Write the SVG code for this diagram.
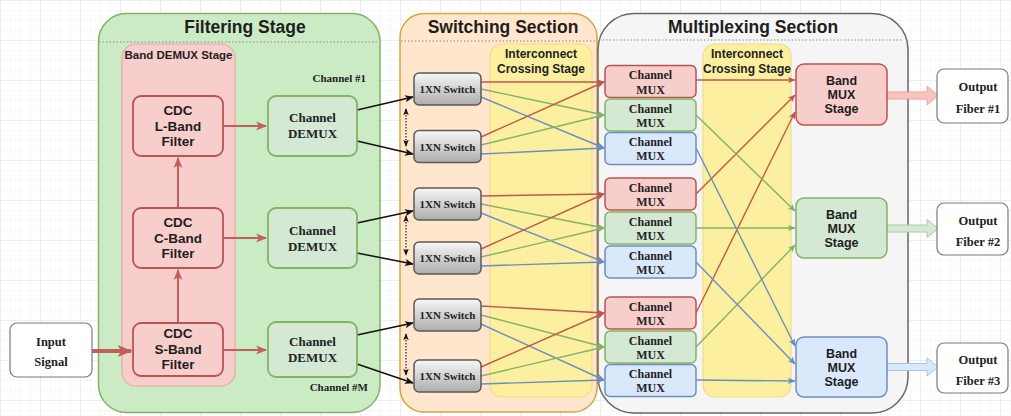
<svg xmlns="http://www.w3.org/2000/svg" width="1011" height="416" viewBox="0 0 1011 416">
  <defs>
    <pattern id="gridMinor" width="10" height="10" patternUnits="userSpaceOnUse">
      <path d="M10 0H0V10" fill="none" stroke="#f0f0f0" stroke-width="1"/>
    </pattern>
    <pattern id="gridMajor" width="40" height="40" patternUnits="userSpaceOnUse">
      <rect width="40" height="40" fill="url(#gridMinor)"/>
      <path d="M40 0H0V40" fill="none" stroke="#e3e3e3" stroke-width="1"/>
    </pattern>
    <linearGradient id="switchFill" x1="0" y1="0" x2="0" y2="1">
      <stop offset="0" stop-color="#f7f7f7"/>
      <stop offset="1" stop-color="#adadad"/>
    </linearGradient>
    <marker id="arrR" viewBox="0 0 10 10" refX="9" refY="5" markerWidth="8" markerHeight="8" markerUnits="userSpaceOnUse" orient="auto">
      <path d="M0,1 L10,5 L0,9 L2.5,5 Z" fill="#bf5a4a"/>
    </marker>
    <marker id="arrG" viewBox="0 0 10 10" refX="9" refY="5" markerWidth="8" markerHeight="8" markerUnits="userSpaceOnUse" orient="auto">
      <path d="M0,1 L10,5 L0,9 L2.5,5 Z" fill="#82b366"/>
    </marker>
    <marker id="arrB" viewBox="0 0 10 10" refX="9" refY="5" markerWidth="8" markerHeight="8" markerUnits="userSpaceOnUse" orient="auto">
      <path d="M0,1 L10,5 L0,9 L2.5,5 Z" fill="#6c8ebf"/>
    </marker>
    <marker id="arrK" viewBox="0 0 10 10" refX="9" refY="5" markerWidth="9" markerHeight="9" markerUnits="userSpaceOnUse" orient="auto">
      <path d="M0,1 L10,5 L0,9 L2.5,5 Z" fill="#111"/>
    </marker>
    <marker id="arrKs" viewBox="0 0 10 10" refX="9" refY="5" markerWidth="7" markerHeight="7" markerUnits="userSpaceOnUse" orient="auto-start-reverse">
      <path d="M0,1 L10,5 L0,9 L2.5,5 Z" fill="#111"/>
    </marker>
    <marker id="arrRm" viewBox="0 0 10 10" refX="9" refY="5" markerWidth="11" markerHeight="11" markerUnits="userSpaceOnUse" orient="auto">
      <path d="M0,1 L10,5 L0,9 L2.5,5 Z" fill="#c0605b"/>
    </marker>
    <marker id="arrRl" viewBox="0 0 10 10" refX="9" refY="5" markerWidth="15" markerHeight="15" markerUnits="userSpaceOnUse" orient="auto">
      <path d="M0,1 L10,5 L0,9 L2.5,5 Z" fill="#c0605b"/>
    </marker>
    <style>
      .sans { font-family: "Liberation Sans", Arial, sans-serif; font-weight: bold; fill: #1e1e1e; text-anchor: middle; }
      .serif { font-family: "Liberation Serif", "Times New Roman", serif; font-weight: bold; fill: #222; text-anchor: middle; }
      .title { font-size: 17.5px; }
      .lbl12 { font-size: 12px; }
      .cdc { font-size: 13.5px; }
      .bmux { font-size: 12.5px; }
      .sep { stroke: #8a8a8a; stroke-width: 1; stroke-dasharray: 1.5 2; fill: none; }
      .cdcBox { fill: #f8cecc; stroke: #b85450; stroke-width: 1.8; }
      .demuxBox { fill: #d5e8d4; stroke: #82b366; stroke-width: 1.8; }
      .sw { fill: url(#switchFill); stroke: #5a5a5a; stroke-width: 1.5; }
      .muxR { fill: #f8cecc; stroke: #b85450; stroke-width: 1.5; }
      .muxG { fill: #d5e8d4; stroke: #82b366; stroke-width: 1.5; }
      .muxB { fill: #dae8fc; stroke: #6c8ebf; stroke-width: 1.5; }
      .plain { fill: #ffffff; stroke: #7a7a7a; stroke-width: 1.2; }
      .yel { fill: #fcef9f; stroke: #f0dd8a; stroke-width: 1.2; }
      .cR { stroke: #bf5a4a; stroke-width: 1.4; fill: none; marker-end: url(#arrR); }
      .cG { stroke: #82b366; stroke-width: 1.4; fill: none; marker-end: url(#arrG); }
      .cB { stroke: #6c8ebf; stroke-width: 1.4; fill: none; marker-end: url(#arrB); }
      .cK { stroke: #111; stroke-width: 1.5; fill: none; marker-end: url(#arrK); }
      .cKd { stroke: #111; stroke-width: 1.1; fill: none; stroke-dasharray: 1.5 1.5; marker-start: url(#arrKs); marker-end: url(#arrKs); }
      .cRm { stroke: #c0605b; stroke-width: 2; fill: none; marker-end: url(#arrRm); }
    </style>
  </defs>

  <!-- canvas -->
  <rect width="1011" height="416" fill="#ffffff"/>
  <rect width="1011" height="416" fill="url(#gridMajor)"/>

  <!-- containers -->
  <g id="filtering-stage">
    <rect x="98.5" y="13.5" width="281.5" height="399" rx="28" fill="#cbebc5" stroke="#82b366" stroke-width="1.5"/>
    <line class="sep" x1="99" y1="42" x2="379" y2="42"/>
    <text class="sans title" x="245" y="33">Filtering Stage</text>
  </g>
  <g id="band-demux-stage">
    <rect x="122" y="44" width="113" height="342" rx="14" fill="#f8cecc" stroke="#eaa8a6" stroke-width="1.2"/>
    <text class="sans" x="178.5" y="59" font-size="11.5">Band DEMUX Stage</text>
  </g>
  <g id="switching-section">
    <rect x="400" y="13.5" width="197" height="398.5" rx="24" fill="#ffe6cc" stroke="#d6a640" stroke-width="1.5"/>
    <line class="sep" x1="401" y1="41" x2="596" y2="41"/>
    <text class="sans title" x="503" y="33">Switching Section</text>
  </g>
  <g id="interconnect-crossing-1">
    <rect class="yel" x="490" y="44" width="102" height="353" rx="12"/>
    <text class="sans lbl12" x="541" y="58">Interconnect</text>
    <text class="sans lbl12" x="541" y="73">Crossing Stage</text>
  </g>
  <g id="multiplexing-section">
    <rect x="598" y="13.5" width="310" height="399.5" rx="36" fill="#f5f5f5" stroke="#666666" stroke-width="1.5"/>
    <line class="sep" x1="599" y1="40" x2="903" y2="40"/>
    <text class="sans title" x="753" y="33">Multiplexing Section</text>
  </g>
  <g id="interconnect-crossing-2">
    <rect class="yel" x="703" y="44" width="88" height="353" rx="12"/>
    <text class="sans lbl12" x="747" y="58">Interconnect</text>
    <text class="sans lbl12" x="747" y="73">Crossing Stage</text>
  </g>

  <!-- connectors -->
  <g id="connectors">
    <!-- input and band filters -->
    <path d="M92,351 H131" stroke="#c0605b" stroke-width="4" fill="none" marker-end="url(#arrRl)"/>
    <path class="cRm" d="M178,323 V270"/>
    <path class="cRm" d="M178,208 V158"/>
    <path class="cRm" d="M223,126 H266"/>
    <path class="cRm" d="M223,238 H266"/>
    <path class="cRm" d="M223,350 H266"/>
    <!-- channel demux to switches -->
    <path class="cK" d="M357,110 L413,97"/>
    <path class="cK" d="M357,141 L413,154"/>
    <path class="cK" d="M357,223 L413,211"/>
    <path class="cK" d="M357,253 L413,264"/>
    <path class="cK" d="M357,335 L413,323"/>
    <path class="cK" d="M357,364 L413,383"/>
    <!-- switch pair ranges -->
    <path class="cKd" d="M406,109 V146"/>
    <path class="cKd" d="M406,216 V255"/>
    <path class="cKd" d="M406,334 V375"/>
    <!-- switches to channel mux, group 1 -->
    <path class="cR" d="M481,82 L604,82"/>
    <path class="cG" d="M481,89 L604,115"/>
    <path class="cB" d="M481,97 L604,148"/>
    <path class="cR" d="M481,137 L604,82"/>
    <path class="cG" d="M481,145 L604,115"/>
    <path class="cB" d="M481,154 L604,148"/>
    <!-- group 2 -->
    <path class="cR" d="M481,196 L604,194"/>
    <path class="cG" d="M481,204 L604,228"/>
    <path class="cB" d="M481,213 L604,262"/>
    <path class="cR" d="M481,249 L604,194"/>
    <path class="cG" d="M481,257 L604,228"/>
    <path class="cB" d="M481,266 L604,262"/>
    <!-- group 3 -->
    <path class="cR" d="M481,306 L604,313"/>
    <path class="cG" d="M481,315 L604,347"/>
    <path class="cB" d="M481,324 L604,380"/>
    <path class="cR" d="M481,367 L604,313"/>
    <path class="cG" d="M481,376 L604,347"/>
    <path class="cB" d="M481,384 L604,380"/>
    <!-- channel mux to band mux -->
    <path class="cR" d="M696,80 L795,80"/>
    <path class="cR" d="M696,194 L795,95"/>
    <path class="cR" d="M696,313 L795,112"/>
    <path class="cG" d="M696,115 L795,211"/>
    <path class="cG" d="M696,228 L795,228"/>
    <path class="cG" d="M696,347 L795,245"/>
    <path class="cB" d="M696,148 L795,346"/>
    <path class="cB" d="M696,262 L795,364"/>
    <path class="cB" d="M696,380 L795,381"/>
    <!-- band mux to output fibers -->
    <path d="M887,92 H927 V86 L938,95.5 L927,105 V99 H887 Z" fill="#f8c4c2" stroke="#eaa3a1" stroke-width="1"/>
    <path d="M887,225 H927 V219.5 L938,228.5 L927,237.5 V232 H887 Z" fill="#d5e8d4" stroke="#a6d096" stroke-width="1"/>
    <path d="M887,363.5 H927 V358 L938,367 L927,376 V370.5 H887 Z" fill="#dae8fc" stroke="#a9c4eb" stroke-width="1"/>
  </g>

  <!-- input -->
  <g id="input-signal">
    <rect class="plain" x="10" y="323" width="82" height="54" rx="7"/>
    <text class="serif" x="51" y="346" font-size="12.5">Input</text>
    <text class="serif" x="51" y="366" font-size="12.5">Signal</text>
  </g>

  <!-- band filters -->
  <g id="cdc-l-band">
    <rect class="cdcBox" x="133" y="96" width="90" height="60" rx="8"/>
    <text class="sans cdc" x="178" y="115">CDC</text>
    <text class="sans cdc" x="178" y="130.5">L-Band</text>
    <text class="sans cdc" x="178" y="146">Filter</text>
  </g>
  <g id="cdc-c-band">
    <rect class="cdcBox" x="133" y="208" width="90" height="60" rx="8"/>
    <text class="sans cdc" x="178" y="227">CDC</text>
    <text class="sans cdc" x="178" y="242.5">C-Band</text>
    <text class="sans cdc" x="178" y="258">Filter</text>
  </g>
  <g id="cdc-s-band">
    <rect class="cdcBox" x="133" y="323" width="90" height="53" rx="8"/>
    <text class="sans cdc" x="178" y="338">CDC</text>
    <text class="sans cdc" x="178" y="353.5">S-Band</text>
    <text class="sans cdc" x="178" y="369">Filter</text>
  </g>

  <!-- channel demultiplexers -->
  <g id="channel-demux-1">
    <rect class="demuxBox" x="268" y="96" width="89" height="60" rx="8"/>
    <text class="serif" x="312.5" y="122" font-size="13">Channel</text>
    <text class="serif" x="312.5" y="138" font-size="13">DEMUX</text>
  </g>
  <g id="channel-demux-2">
    <rect class="demuxBox" x="268" y="208" width="89" height="60" rx="8"/>
    <text class="serif" x="312.5" y="235" font-size="13">Channel</text>
    <text class="serif" x="312.5" y="251" font-size="13">DEMUX</text>
  </g>
  <g id="channel-demux-3">
    <rect class="demuxBox" x="268" y="322" width="89" height="55" rx="8"/>
    <text class="serif" x="312.5" y="346" font-size="13">Channel</text>
    <text class="serif" x="312.5" y="362" font-size="13">DEMUX</text>
  </g>
  <g id="channel-labels">
    <text class="serif" x="366" y="82" font-size="11" text-anchor="end" style="text-anchor:end">Channel #1</text>
    <text class="serif" x="368" y="391" font-size="11" text-anchor="end" style="text-anchor:end">Channel #M</text>
  </g>

  <!-- 1XN switches -->
  <g id="switch-1"><rect class="sw" x="414" y="73" width="67" height="32" rx="5"/><text class="serif" x="447.5" y="93" font-size="11">1XN Switch</text></g>
  <g id="switch-2"><rect class="sw" x="414" y="130.5" width="67" height="32" rx="5"/><text class="serif" x="447.5" y="150.5" font-size="11">1XN Switch</text></g>
  <g id="switch-3"><rect class="sw" x="414" y="188" width="67" height="32" rx="5"/><text class="serif" x="447.5" y="208" font-size="11">1XN Switch</text></g>
  <g id="switch-4"><rect class="sw" x="414" y="242" width="67" height="32" rx="5"/><text class="serif" x="447.5" y="262" font-size="11">1XN Switch</text></g>
  <g id="switch-5"><rect class="sw" x="414" y="299" width="67" height="32" rx="5"/><text class="serif" x="447.5" y="319" font-size="11">1XN Switch</text></g>
  <g id="switch-6"><rect class="sw" x="414" y="360" width="67" height="32" rx="5"/><text class="serif" x="447.5" y="380" font-size="11">1XN Switch</text></g>

  <!-- channel multiplexers -->
  <g id="mux-r1"><rect class="muxR" x="605" y="65.5" width="91" height="32" rx="5"/><text class="serif lbl12" x="650.5" y="79">Channel</text><text class="serif lbl12" x="650.5" y="93.5">MUX</text></g>
  <g id="mux-g1"><rect class="muxG" x="605" y="99" width="91" height="32" rx="5"/><text class="serif lbl12" x="650.5" y="112.5">Channel</text><text class="serif lbl12" x="650.5" y="127">MUX</text></g>
  <g id="mux-b1"><rect class="muxB" x="605" y="132.5" width="91" height="32" rx="5"/><text class="serif lbl12" x="650.5" y="145.5">Channel</text><text class="serif lbl12" x="650.5" y="160">MUX</text></g>
  <g id="mux-r2"><rect class="muxR" x="605" y="178" width="91" height="32" rx="5"/><text class="serif lbl12" x="650.5" y="191.5">Channel</text><text class="serif lbl12" x="650.5" y="206">MUX</text></g>
  <g id="mux-g2"><rect class="muxG" x="605" y="212" width="91" height="32" rx="5"/><text class="serif lbl12" x="650.5" y="225.5">Channel</text><text class="serif lbl12" x="650.5" y="240">MUX</text></g>
  <g id="mux-b2"><rect class="muxB" x="605" y="246" width="91" height="32" rx="5"/><text class="serif lbl12" x="650.5" y="259.5">Channel</text><text class="serif lbl12" x="650.5" y="274">MUX</text></g>
  <g id="mux-r3"><rect class="muxR" x="605" y="297" width="91" height="32" rx="5"/><text class="serif lbl12" x="650.5" y="310.5">Channel</text><text class="serif lbl12" x="650.5" y="325">MUX</text></g>
  <g id="mux-g3"><rect class="muxG" x="605" y="331" width="91" height="32" rx="5"/><text class="serif lbl12" x="650.5" y="344.5">Channel</text><text class="serif lbl12" x="650.5" y="359">MUX</text></g>
  <g id="mux-b3"><rect class="muxB" x="605" y="364.5" width="91" height="32" rx="5"/><text class="serif lbl12" x="650.5" y="377.5">Channel</text><text class="serif lbl12" x="650.5" y="392">MUX</text></g>

  <!-- band multiplexers -->
  <g id="band-mux-red">
    <rect class="muxR" x="796" y="64" width="91" height="61" rx="8" stroke-width="1.8"/>
    <text class="sans bmux" x="841.5" y="85">Band</text>
    <text class="sans bmux" x="841.5" y="99">MUX</text>
    <text class="sans bmux" x="841.5" y="113">Stage</text>
  </g>
  <g id="band-mux-green">
    <rect class="muxG" x="796" y="198" width="91" height="60" rx="8" stroke-width="1.8"/>
    <text class="sans bmux" x="841.5" y="218.5">Band</text>
    <text class="sans bmux" x="841.5" y="232.5">MUX</text>
    <text class="sans bmux" x="841.5" y="246.5">Stage</text>
  </g>
  <g id="band-mux-blue">
    <rect class="muxB" x="796" y="337" width="91" height="60" rx="8" stroke-width="1.8"/>
    <text class="sans bmux" x="841.5" y="357.5">Band</text>
    <text class="sans bmux" x="841.5" y="371.5">MUX</text>
    <text class="sans bmux" x="841.5" y="385.5">Stage</text>
  </g>

  <!-- output fibers -->
  <g id="output-fiber-1">
    <rect class="plain" x="937" y="69" width="71" height="54" rx="7"/>
    <text class="serif" x="978" y="91" font-size="12.5">Output</text>
    <text class="serif" x="978" y="112.5" font-size="12.5">Fiber #1</text>
  </g>
  <g id="output-fiber-2">
    <rect class="plain" x="937" y="203" width="71" height="52" rx="7"/>
    <text class="serif" x="978" y="225" font-size="12.5">Output</text>
    <text class="serif" x="978" y="246" font-size="12.5">Fiber #2</text>
  </g>
  <g id="output-fiber-3">
    <rect class="plain" x="937" y="343" width="71" height="50" rx="7"/>
    <text class="serif" x="978" y="363.5" font-size="12.5">Output</text>
    <text class="serif" x="978" y="385" font-size="12.5">Fiber #3</text>
  </g>
</svg>
